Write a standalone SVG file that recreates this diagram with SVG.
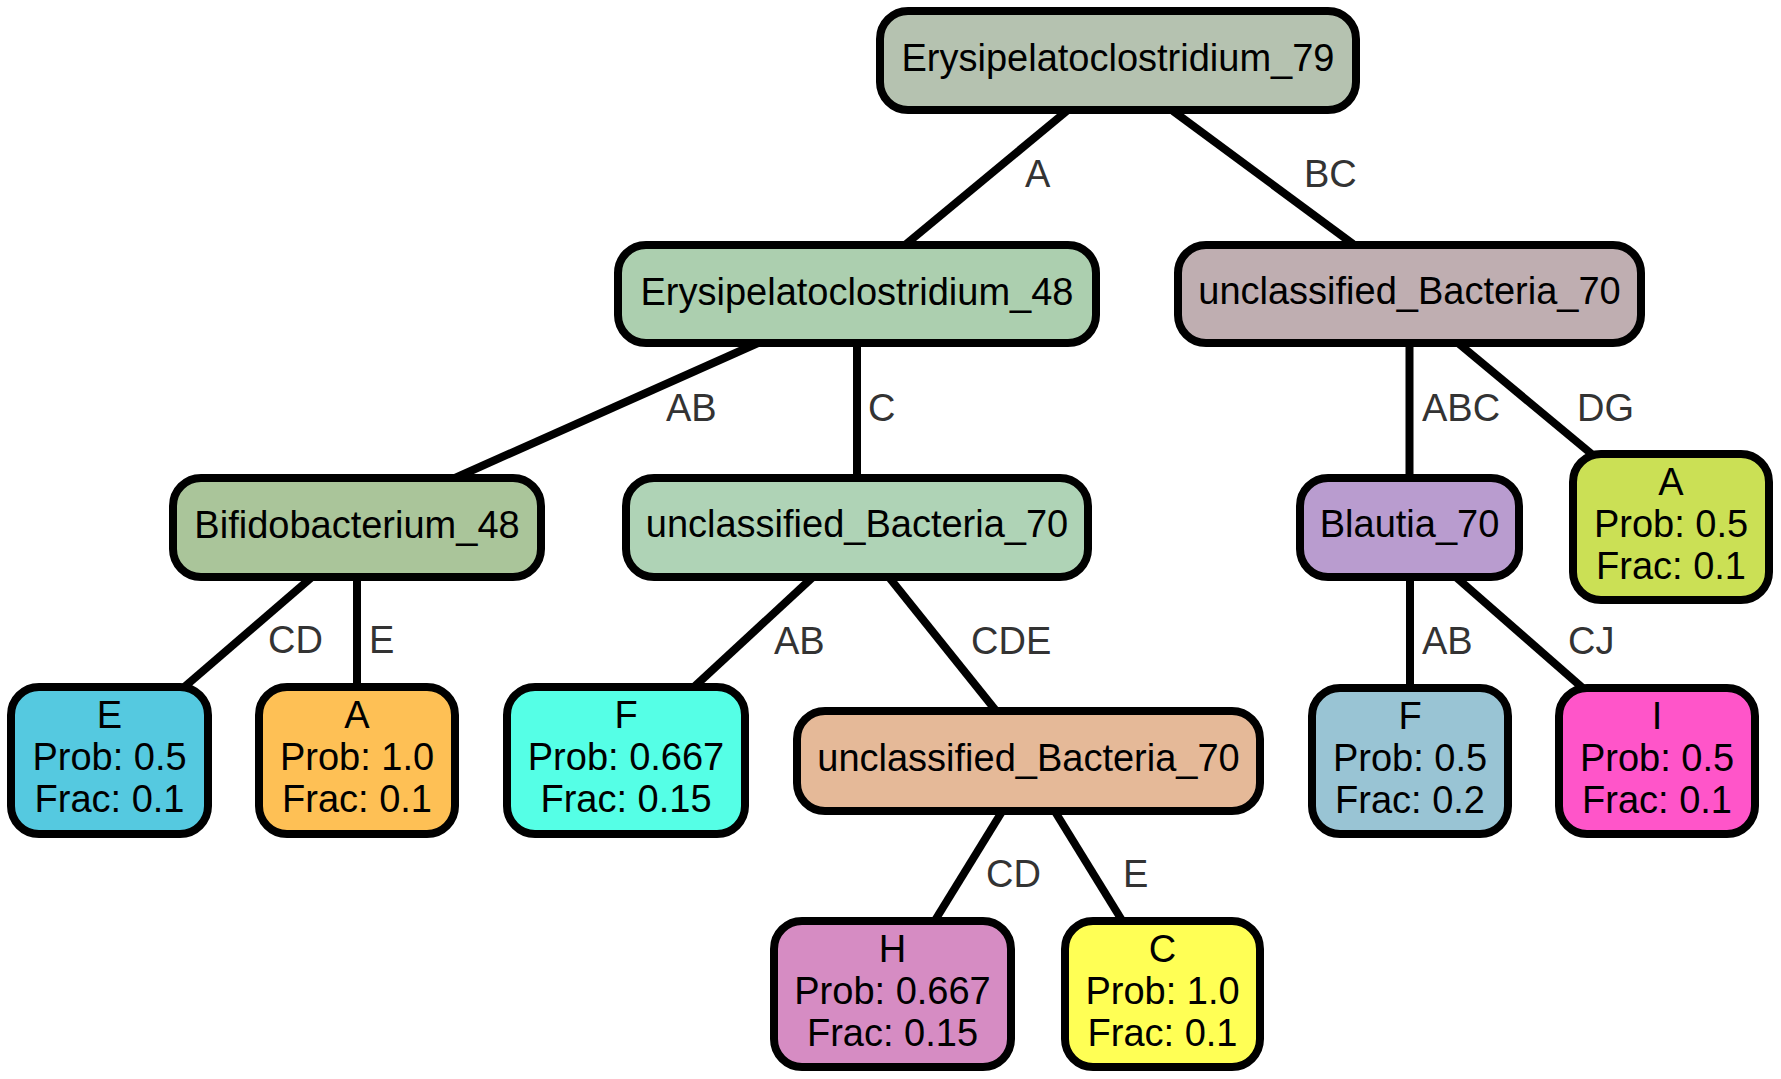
<svg xmlns="http://www.w3.org/2000/svg" width="1781" height="1079" viewBox="0 0 1781 1079">
<style>
.n rect{stroke:#000;stroke-width:8}
.n text{font-family:"Liberation Sans",Arial,Helvetica,sans-serif;font-size:38px;fill:#000;text-anchor:middle}
.e line{stroke:#000;stroke-width:8;fill:none}
.e text{font-family:"Liberation Sans",Arial,Helvetica,sans-serif;font-size:38px;fill:#333}
</style>
<rect width="1781" height="1079" fill="#fff"/>
<g id="edges" class="e">
<line x1="1068" y1="110" x2="905" y2="245"/>
<line x1="1173" y1="111" x2="1353" y2="244"/>
<line x1="758" y1="343" x2="455" y2="478"/>
<line x1="857" y1="340" x2="857" y2="480"/>
<line x1="1409.5" y1="340" x2="1409.5" y2="480"/>
<line x1="1458" y1="343" x2="1594" y2="456"/>
<line x1="312" y1="577" x2="182" y2="689"/>
<line x1="357" y1="575" x2="357" y2="690"/>
<line x1="814" y1="576" x2="694" y2="687"/>
<line x1="888" y1="576" x2="997" y2="712"/>
<line x1="1410" y1="575" x2="1410" y2="690"/>
<line x1="1457" y1="578" x2="1585" y2="690"/>
<line x1="1003" y1="810" x2="934" y2="922"/>
<line x1="1054" y1="810" x2="1123" y2="922"/>
<text x="1025" y="187">A</text>
<text x="1304" y="187">BC</text>
<text x="666" y="421">AB</text>
<text x="868" y="421">C</text>
<text x="1422" y="421">ABC</text>
<text x="1577" y="421">DG</text>
<text x="268" y="653">CD</text>
<text x="369" y="653">E</text>
<text x="774" y="654">AB</text>
<text x="971" y="654">CDE</text>
<text x="1422" y="654">AB</text>
<text x="1568" y="654">CJ</text>
<text x="986" y="887">CD</text>
<text x="1123" y="887">E</text>
</g>
<g id="n_root" class="n"><rect x="880" y="11" width="476" height="99" rx="28" fill="#b5c2b0"/><text x="1118" y="71">Erysipelatoclostridium_79</text></g>
<g id="n_e48" class="n"><rect x="618" y="245" width="478" height="98" rx="28" fill="#accfaf"/><text x="857" y="305">Erysipelatoclostridium_48</text></g>
<g id="n_ub70r" class="n"><rect x="1178" y="245" width="463" height="98" rx="28" fill="#bfaeb1"/><text x="1409.5" y="304">unclassified_Bacteria_70</text></g>
<g id="n_bifido" class="n"><rect x="173" y="478" width="368" height="99" rx="28" fill="#aac59a"/><text x="357" y="538">Bifidobacterium_48</text></g>
<g id="n_ub70l" class="n"><rect x="626" y="478" width="462" height="99" rx="28" fill="#afd3b6"/><text x="857" y="537">unclassified_Bacteria_70</text></g>
<g id="n_blautia" class="n"><rect x="1300" y="478" width="219" height="99" rx="28" fill="#b99ccf"/><text x="1409.5" y="537">Blautia_70</text></g>
<g id="n_a_yg" class="n"><rect x="1573" y="454" width="196" height="146" rx="28" fill="#cbe055"/><text x="1671" y="495">A</text><text x="1671" y="537">Prob: 0.5</text><text x="1671" y="579">Frac: 0.1</text></g>
<g id="n_e_leaf" class="n"><rect x="11" y="687" width="197" height="147" rx="28" fill="#55c9e0"/><text x="109.5" y="728">E</text><text x="109.5" y="770">Prob: 0.5</text><text x="109.5" y="812">Frac: 0.1</text></g>
<g id="n_a_or" class="n"><rect x="259" y="687" width="196" height="147" rx="28" fill="#fec055"/><text x="357" y="728">A</text><text x="357" y="770">Prob: 1.0</text><text x="357" y="812">Frac: 0.1</text></g>
<g id="n_f_cy" class="n"><rect x="507" y="687" width="238" height="147" rx="28" fill="#55ffe6"/><text x="626" y="728">F</text><text x="626" y="770">Prob: 0.667</text><text x="626" y="812">Frac: 0.15</text></g>
<g id="n_peach" class="n"><rect x="797" y="711" width="463" height="100" rx="28" fill="#e5b998"/><text x="1028.5" y="771">unclassified_Bacteria_70</text></g>
<g id="n_f_bl" class="n"><rect x="1312" y="688" width="196" height="146" rx="28" fill="#99c4d4"/><text x="1410" y="729">F</text><text x="1410" y="771">Prob: 0.5</text><text x="1410" y="813">Frac: 0.2</text></g>
<g id="n_i" class="n"><rect x="1559" y="688" width="196" height="146" rx="28" fill="#ff55c9"/><text x="1657" y="729">I</text><text x="1657" y="771">Prob: 0.5</text><text x="1657" y="813">Frac: 0.1</text></g>
<g id="n_h" class="n"><rect x="774" y="921" width="237" height="146" rx="28" fill="#d68cc3"/><text x="892.5" y="962">H</text><text x="892.5" y="1004">Prob: 0.667</text><text x="892.5" y="1046">Frac: 0.15</text></g>
<g id="n_c" class="n"><rect x="1065" y="921" width="195" height="146" rx="28" fill="#ffff55"/><text x="1162.5" y="962">C</text><text x="1162.5" y="1004">Prob: 1.0</text><text x="1162.5" y="1046">Frac: 0.1</text></g>
</svg>
